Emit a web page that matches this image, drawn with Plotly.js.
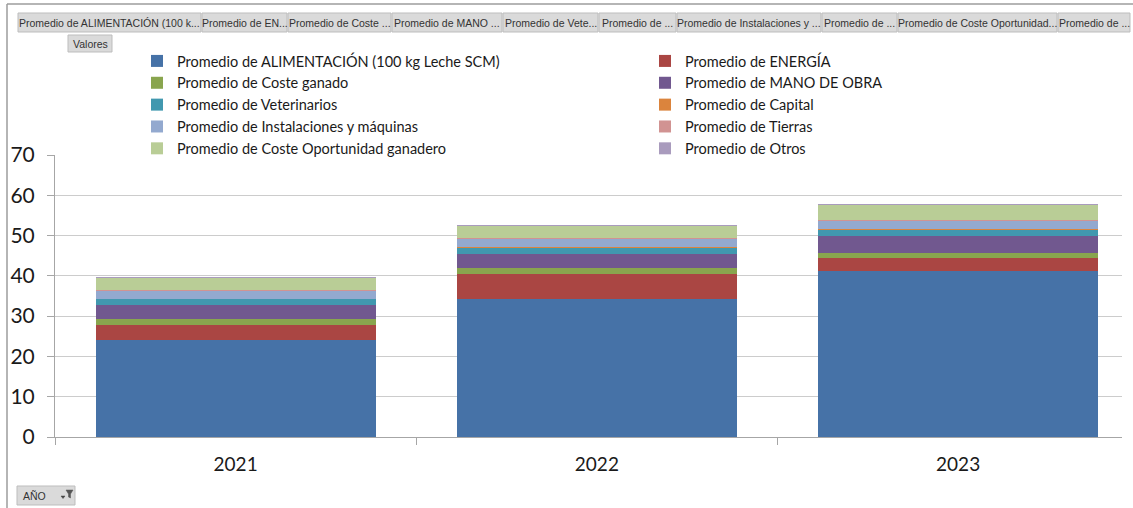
<!DOCTYPE html>
<html><head><meta charset="utf-8">
<script src="https://cdn.plot.ly/plotly-3.0.1.min.js"></script>
<style>html,body{margin:0;padding:0;background:#fff}#chart{width:1133px;height:508px}</style>
</head><body><div id="chart"></div>
<script>
// ---- data ----
const years = ['2021', '2022', '2023'];
const seriesNames = [
  'Promedio de ALIMENTACIÓN (100 kg Leche SCM)',
  'Promedio de ENERGÍA',
  'Promedio de Coste ganado',
  'Promedio de MANO DE OBRA',
  'Promedio de Veterinarios',
  'Promedio de Capital',
  'Promedio de Instalaciones y máquinas',
  'Promedio de Tierras',
  'Promedio de Coste Oportunidad ganadero',
  'Promedio de Otros'
];
const alimentacion   = [24.2, 34.3, 41.2];
const energia        = [3.6, 6.1, 3.2];
const costeGanado    = [1.4, 1.5, 1.3];
const manoDeObra     = [3.55, 3.5, 4.25];
const veterinarios   = [1.45, 1.6, 1.55];
const capital        = [0.1, 0.1, 0.1];
const instalaciones  = [1.9, 2.0, 2.1];
const tierras        = [0.2, 0.2, 0.2];
const costeOportun   = [3.1, 3.1, 3.7];
const otros          = [0.2, 0.2, 0.2];
const seriesColors = ['#4672a7', '#aa4643', '#89a54e', '#71588f', '#4198af',
                      '#db843d', '#93a9cf', '#d19392', '#b9cd96', '#a99bbd'];
const yTickVals = [0, 10, 20, 30, 40, 50, 60, 70];
const fieldButtons = [
  'Promedio de ALIMENTACIÓN (100 k...', 'Promedio de EN...', 'Promedio de Coste ...',
  'Promedio de MANO ...', 'Promedio de Vete...', 'Promedio de ...',
  'Promedio de Instalaciones y ...', 'Promedio de ...', 'Promedio de Coste Oportunidad...',
  'Promedio de ...'
];
const valuesButton = 'Valores';
const axisButton = 'AÑO';

const seriesValues = [alimentacion, energia, costeGanado, manoDeObra, veterinarios,
                      capital, instalaciones, tierras, costeOportun, otros];

// ---- geometry helpers (pixel -> paper) ----
const W = 1133, H = 508, ML = 55, MR = 11, MT = 155, MB = 71;
const PW = W - ML - MR, PH = H - MT - MB;
const px = x => (x - ML) / PW;
const py = y => (H - MB - y) / PH;

const traces = seriesNames.map((n, i) => ({
  type: 'bar', name: n, x: years, y: seriesValues[i],
  marker: {color: seriesColors[i], line: {width: 0}},
  hovertemplate: '%{x}: %{y}<extra>' + n + '</extra>'
}));

const shapes = [];
const annotations = [];
// frame
shapes.push({type: 'line', xref: 'paper', yref: 'paper', x0: px(7), x1: px(1133), y0: py(4), y1: py(4), line: {color: '#9c9c9c', width: 1.5}});
shapes.push({type: 'line', xref: 'paper', yref: 'paper', x0: px(7), x1: px(7), y0: py(4), y1: py(508), line: {color: '#9c9c9c', width: 1.5}});

// field buttons
const btnEdges = [18, 202, 288, 392, 503, 599, 677, 822, 898, 1058, 1131];
function button(x0, x1, y0, y1, text, align) {
  shapes.push({type: 'rect', xref: 'paper', yref: 'paper', x0: px(x0), x1: px(x1), y0: py(y1), y1: py(y0),
    fillcolor: '#dadada', line: {color: '#bdbdbd', width: 1}, layer: 'above'});
  annotations.push({xref: 'paper', yref: 'paper',
    x: align === 'left' ? px(x0 + 4) : px((x0 + x1) / 2), xanchor: align === 'left' ? 'left' : 'center',
    y: py((y0 + y1) / 2), yanchor: 'middle', showarrow: false, text: text,
    font: {family: 'Liberation Sans, Arial, sans-serif', size: 10.5, color: '#333333'}});
}
fieldButtons.forEach((t, i) => button(btnEdges[i], btnEdges[i + 1] - 1, 13, 32, t));
button(68, 112, 35, 52, valuesButton);
button(17, 75, 486, 505, axisButton, 'left');
// filter icon on axis button
shapes.push({type: 'path', xref: 'paper', yref: 'paper', layer: 'above',
  path: `M${px(66)},${py(490)} L${px(73)},${py(490)} L${px(70.5)},${py(494)} L${px(70.5)},${py(498)} L${px(68.5)},${py(497)} L${px(68.5)},${py(494)} Z`,
  fillcolor: '#555', line: {color: '#555', width: 0.5}});
shapes.push({type: 'path', xref: 'paper', yref: 'paper', layer: 'above',
  path: `M${px(61)},${py(496)} L${px(65)},${py(496)} L${px(63)},${py(498.5)} Z`,
  fillcolor: '#444', line: {color: '#444', width: 0.5}});

const layout = {
  width: W, height: H,
  margin: {l: ML, r: MR, t: MT, b: MB, autoexpand: false},
  paper_bgcolor: '#ffffff', plot_bgcolor: '#ffffff',
  barmode: 'stack', bargap: 0.225,
  font: {family: 'Lato, Calibri, sans-serif', color: '#1a1a1a'},
  xaxis: {
    type: 'category', range: [-0.5, -0.5 + PW / 361.25],
    tickson: 'boundaries', ticks: 'outside', ticklen: 7, tickcolor: '#a6a6a6',
    showline: true, linecolor: '#a6a6a6', linewidth: 1, showgrid: false,
    tickfont: {family: 'Lato, sans-serif', size: 19, color: '#1a1a1a'}, ticklabelstandoff: 10
  },
  yaxis: {
    range: [0, 70], tickvals: yTickVals, ticktext: yTickVals.map(String),
    showgrid: true, gridcolor: '#cccccc', gridwidth: 1, zeroline: false,
    showline: true, linecolor: '#a6a6a6', linewidth: 1,
    ticks: 'outside', ticklen: 7, tickcolor: '#a6a6a6',
    tickfont: {family: 'Lato, sans-serif', size: 21, color: '#1a1a1a'}, ticklabelstandoff: 8
  },
  showlegend: true,
  legend: {
    orientation: 'h', traceorder: 'normal',
    x: px(137), xanchor: 'left', y: py(45), yanchor: 'top',
    entrywidth: 463, entrywidthmode: 'pixels',
    font: {family: 'Lato, sans-serif', size: 14.5, color: '#1a1a1a'},
    bgcolor: 'rgba(0,0,0,0)', borderwidth: 0, itemwidth: 30
  },
  shapes: shapes, annotations: annotations
};

Plotly.newPlot('chart', traces, layout, {displayModeBar: false, staticPlot: true});
</script>
</body></html>
